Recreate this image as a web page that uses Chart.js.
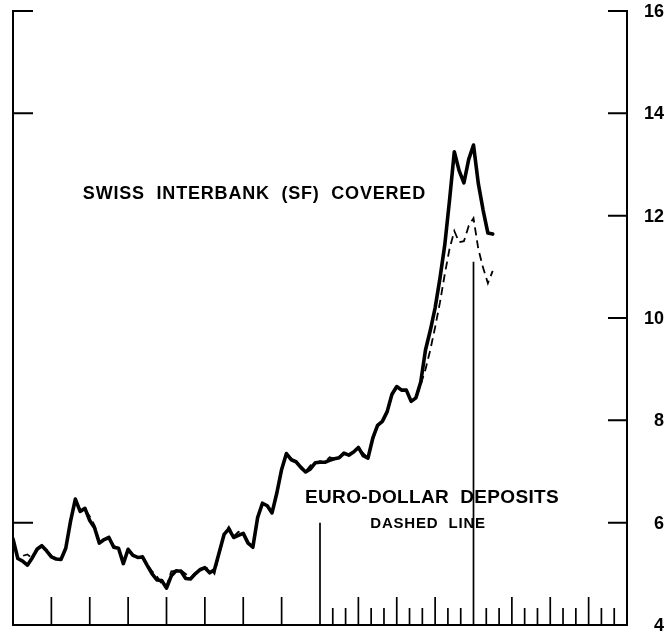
<!DOCTYPE html>
<html>
<head>
<meta charset="utf-8">
<script src="https://cdn.jsdelivr.net/npm/chart.js@4.4.1/dist/chart.umd.min.js"></script>
<style>
  html, body { margin: 0; padding: 0; background: #fff; overflow: hidden; }
  #wrap { width: 665px; height: 635px; }
</style>
</head>
<body>
<div id="wrap"><canvas id="myChart" width="665" height="635"></canvas></div>
<script>
// x is measured in quarters from the left edge; one reading every 1/8 quarter
const stepsPerQuarter = 8;

// Swiss interbank (SF) covered - solid line
const swissCovered = [
  5.68, 5.30, 5.25, 5.17, 5.31, 5.48, 5.55, 5.45, 5.33, 5.29,
  5.28, 5.50, 6.03, 6.46, 6.22, 6.28, 6.04, 5.90, 5.60, 5.67,
  5.71, 5.52, 5.50, 5.20, 5.48, 5.36, 5.32, 5.33, 5.16, 5.00,
  4.88, 4.87, 4.72, 4.96, 5.06, 5.05, 4.91, 4.90, 5.00, 5.08,
  5.12, 5.02, 5.08, 5.42, 5.77, 5.88, 5.71, 5.75, 5.79, 5.60,
  5.52, 6.10, 6.38, 6.33, 6.19, 6.58, 7.04, 7.35, 7.23, 7.19,
  7.08, 6.99, 7.05, 7.17, 7.18, 7.18, 7.22, 7.25, 7.27, 7.36,
  7.32, 7.38, 7.47, 7.31, 7.26, 7.65, 7.90, 7.98, 8.17, 8.51,
  8.66, 8.59, 8.59, 8.37, 8.44, 8.75, 9.38, 9.76, 10.20, 10.77,
  11.42, 12.30, 13.25, 12.88, 12.64, 13.10, 13.38, 12.63, 12.11, 11.66,
  11.64,
];

// Euro-dollar deposits - dashed line
const euroDollar = [
  5.68, 5.30, 5.35, 5.38, 5.30, 5.45, 5.55, 5.47, 5.35, 5.29,
  5.28, 5.50, 6.03, 6.44, 6.25, 6.26, 6.12, 5.95, 5.62, 5.67,
  5.73, 5.55, 5.50, 5.24, 5.46, 5.38, 5.32, 5.35, 5.18, 5.05,
  4.95, 4.80, 4.76, 5.05, 5.06, 5.07, 5.00, 4.92, 5.02, 5.10,
  5.10, 5.12, 5.00, 5.40, 5.77, 5.92, 5.73, 5.82, 5.79, 5.62,
  5.55, 6.10, 6.36, 6.33, 6.21, 6.58, 7.02, 7.33, 7.25, 7.19,
  7.10, 7.00, 7.12, 7.17, 7.20, 7.18, 7.28, 7.25, 7.29, 7.34,
  7.33, 7.38, 7.45, 7.36, 7.26, 7.62, 7.88, 7.98, 8.15, 8.49,
  8.64, 8.60, 8.57, 8.37, 8.42, 8.70, 9.00, 9.38, 9.82, 10.30,
  10.85, 11.35, 11.70, 11.48, 11.50, 11.80, 11.95, 11.35, 10.98, 10.68,
  10.92,
];

// axis
const yTicks = [4, 6, 8, 10, 12, 14, 16];
const rightTicks = [6, 8, 10, 12, 14, 16];
const leftTicks = [6, 14, 16];
const quarterTicks = [1, 2, 3, 4, 5, 6, 7, 9, 10, 11, 13, 14, 15];
const monthTicks = [8.333, 8.667, 9.333, 9.667, 10.333, 10.667, 11.333, 11.667,
  12.333, 12.667, 13.333, 13.667, 14.333, 14.667, 15.333, 15.667];
// long markers: [quarter, top value]
const longTicks = [[8, 6.0], [12, 11.1]];

// text labels: [text, left quarter, right quarter, value, font size]
const notes = [
  ["SWISS  INTERBANK  (SF)  COVERED", 1.82, 10.74, 12.43, 18],
  ["EURO-DOLLAR  DEPOSITS", 7.61, 14.22, 6.48, 19],
  ["DASHED  LINE", 9.31, 12.3, 5.97, 15],
];

const FONT = "'Liberation Sans', Arial, sans-serif";

const toPoints = (vals) => vals.map((v, i) => ({ x: i / stepsPerQuarter, y: v }));

const frame = {
  id: "frame",
  afterDraw(chart) {
    const ctx = chart.ctx;
    const x = chart.scales.x;
    const y = chart.scales.y;
    const L = x.getPixelForValue(0);
    const R = x.getPixelForValue(16);
    const B = y.getPixelForValue(4);
    const T = y.getPixelForValue(16);
    ctx.save();
    ctx.strokeStyle = "#000";
    ctx.lineCap = "square";
    ctx.lineWidth = 2;
    ctx.beginPath();
    ctx.moveTo(L, T);
    ctx.lineTo(L, B);
    ctx.lineTo(R, B);
    ctx.lineTo(R, T);
    leftTicks.forEach((v) => {
      ctx.moveTo(L, y.getPixelForValue(v));
      ctx.lineTo(L + 19, y.getPixelForValue(v));
    });
    rightTicks.forEach((v) => {
      ctx.moveTo(R, y.getPixelForValue(v));
      ctx.lineTo(R - 18, y.getPixelForValue(v));
    });
    ctx.stroke();

    ctx.lineWidth = 1.7;
    ctx.lineCap = "butt";
    ctx.beginPath();
    quarterTicks.forEach((q) => {
      ctx.moveTo(x.getPixelForValue(q), B);
      ctx.lineTo(x.getPixelForValue(q), B - 28);
    });
    monthTicks.forEach((q) => {
      ctx.moveTo(x.getPixelForValue(q), B);
      ctx.lineTo(x.getPixelForValue(q), B - 17);
    });
    longTicks.forEach(([q, top]) => {
      ctx.moveTo(x.getPixelForValue(q), B);
      ctx.lineTo(x.getPixelForValue(q), y.getPixelForValue(top));
    });
    ctx.stroke();

    ctx.fillStyle = "#000";
    ctx.textBaseline = "middle";

    // value labels on the right
    ctx.textAlign = "right";
    ctx.font = "bold 18px " + FONT;
    yTicks.forEach((v) => {
      ctx.fillText(String(v), R + 37, y.getPixelForValue(v) + 1);
    });

    // notes, spread to the width they take in the original
    ctx.textAlign = "left";
    notes.forEach(([text, q0, q1, v, size]) => {
      ctx.font = "bold " + size + "px " + FONT;
      ctx.letterSpacing = "0px";
      const left = x.getPixelForValue(q0);
      const want = x.getPixelForValue(q1) - left;
      const w = ctx.measureText(text).width;
      ctx.letterSpacing = ((want - w) / (text.length - 1)).toFixed(2) + "px";
      ctx.fillText(text, left, y.getPixelForValue(v));
    });
    ctx.restore();
  },
};

new Chart(document.getElementById("myChart"), {
  type: "line",
  data: {
    datasets: [
      {
        label: "Swiss interbank (SF) covered",
        data: toPoints(swissCovered),
        borderColor: "#000",
        borderWidth: 3.6,
        pointRadius: 0,
        tension: 0,
        borderJoinStyle: "round",
        borderCapStyle: "round",
      },
      {
        label: "Euro-dollar deposits",
        data: toPoints(euroDollar),
        borderColor: "#000",
        borderWidth: 1.8,
        borderDash: [8, 5],
        pointRadius: 0,
        tension: 0,
      },
    ],
  },
  options: {
    responsive: false,
    animation: false,
    layout: { padding: { left: 13, right: 38, top: 11, bottom: 10 } },
    plugins: { legend: { display: false }, tooltip: { enabled: false } },
    scales: {
      x: { type: "linear", min: 0, max: 16, display: false },
      y: { type: "linear", min: 4, max: 16, display: false },
    },
  },
  plugins: [frame],
});
</script>
</body>
</html>
